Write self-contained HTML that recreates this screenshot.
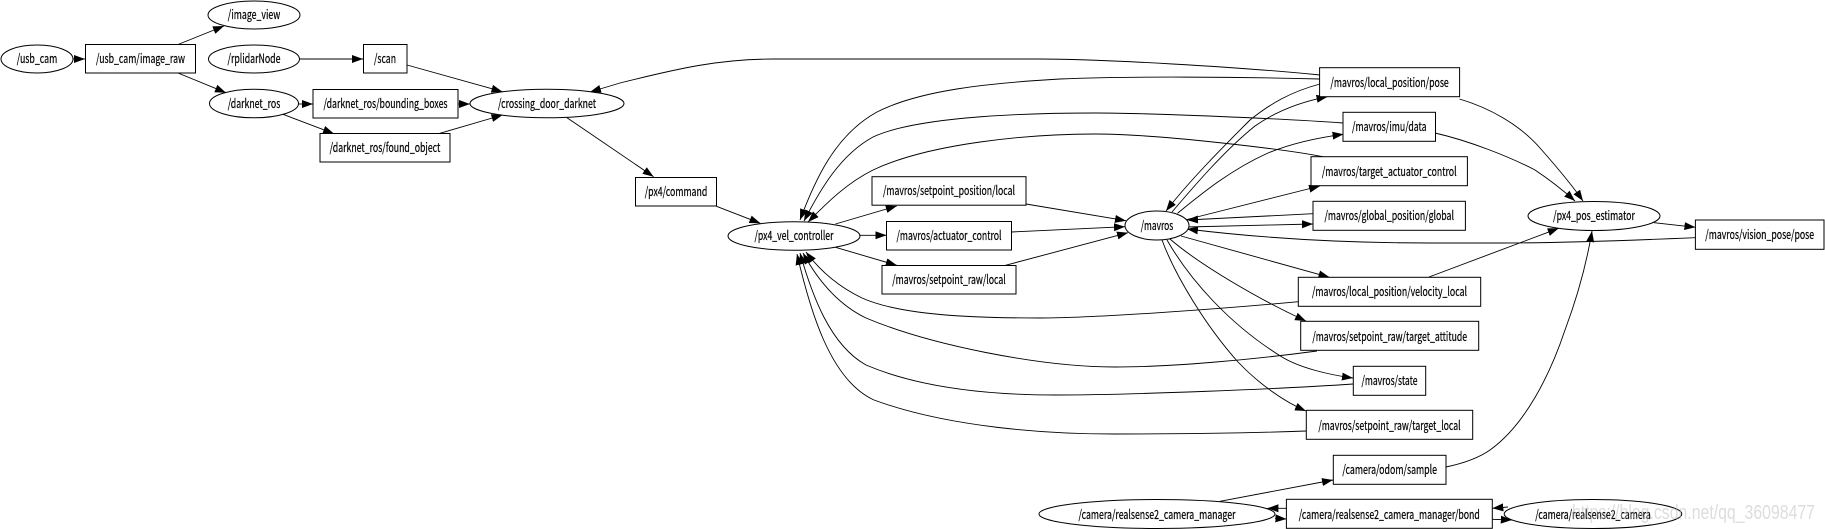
<!DOCTYPE html>
<html><head><meta charset="utf-8"><style>
html,body{margin:0;padding:0;background:#fff;width:1825px;height:529px;overflow:hidden}
svg{display:block;filter:blur(.3px)}
text{font-family:"Noto Sans CJK SC","Liberation Sans",sans-serif;font-size:12.5px;fill:#000;stroke:#000;stroke-width:.22;text-anchor:middle}
.n rect,.n ellipse{fill:#fff;stroke:#000;stroke-width:1}
.e path{fill:none;stroke:#000;stroke-width:.9;marker-end:url(#a)}
</style></head><body>
<svg width="1825" height="529" viewBox="0 0 1825 529" xmlns="http://www.w3.org/2000/svg">
<defs><marker id="a" markerUnits="userSpaceOnUse" markerWidth="12" markerHeight="9" refX="11" refY="4" orient="auto"><path d="M0,0L11,4L0,8z" fill="#000"/></marker></defs>
<g class="e">
<path d="M73,59L85,59"/><path d="M178,44.5L224,26"/><path d="M178,73L226,92.7"/><path d="M299,59L363,59"/>
<path d="M407,65L502.5,91.7"/><path d="M298.5,104L313,104"/><path d="M458,104L470,104"/><path d="M283,114.3L334,133.7"/>
<path d="M438.6,133.7L502.5,115"/><path d="M567,117.7L653.6,176.7"/>
<path d="M1320,75C1240,67 1100,59 1040,59L774,59C720,59 680,68 620,83L590,92"/>
<path d="M716.5,206.3L760.4,223.3"/><path d="M835.5,224L896.8,206"/><path d="M859.6,235.3L886.5,235.3"/><path d="M835.5,247.3L896.8,265.3"/>
<path d="M1026,204L1126,220.7"/><path d="M1011.5,232L1125,226.7"/><path d="M1005.5,265.3L1128,232.7"/>
<path d="M1320,79C1240,77 1130,76 1060,79C990,83 920,90 877,112C835,135 815,180 800,220"/>
<path d="M1343,123C1290,119 1150,113 1095,113C1040,113 920,115 873,137C840,155 820,190 804,221"/>
<path d="M1324,157C1290,150 1160,134 1095,134C1030,134 930,143 873,170C845,184 825,205 808,222"/>
<path d="M1320,84C1290,92 1270,104 1250,120C1225,145 1190,180 1166,211"/>
<path d="M1172,212C1195,185 1225,150 1255,126C1275,112 1300,102 1327.5,96.7"/>
<path d="M1177.5,213.3C1200,195 1230,170 1268,153C1290,144 1315,138 1343.5,134.3"/>
<path d="M1185,220L1320,186"/><path d="M1313,213.7L1187,220"/><path d="M1187,227L1313,224"/>
<path d="M1695,237.7C1640,240 1560,243 1500,243L1430,243C1340,243 1260,238 1187,229"/>
<path d="M1181,236L1329.5,277.3"/><path d="M1429,277L1558.7,228.3"/>
<path d="M1298.5,301.7C1230,308 1100,318 1040,318C970,318 900,315 862,298C835,285 818,268 806,252"/>
<path d="M1317,351C1250,360 1170,367 1115,367C1040,367 930,345 866,318C835,303 815,275 803,253"/>
<path d="M1353,384C1280,389 1130,395 1056,395C990,395 920,388 866,365C830,345 812,295 800,253"/>
<path d="M1306,431C1250,433 1180,434 1115,434C1050,434 950,428 874,400C830,380 810,310 797,254"/>
<path d="M1170,239C1200,265 1260,300 1306,321"/>
<path d="M1167,240C1190,280 1230,325 1282,357C1300,368 1330,375 1353,378"/>
<path d="M1162,240C1175,275 1205,325 1238,362C1260,385 1285,402 1306,411"/>
<path d="M1459.5,99C1490,108 1520,125 1540,148C1555,165 1572,185 1583,201"/>
<path d="M1435,133C1470,141 1510,157 1535,170C1550,180 1565,192 1575,201"/>
<path d="M1654,222.7L1695.4,227.3"/>
<path d="M1446,467C1465,463 1480,457 1490,450C1525,425 1550,375 1565,330C1580,290 1588,255 1592,231"/>
<path d="M1220,501.3L1333,480"/><path d="M1286.4,508.3L1267.4,508.3"/><path d="M1275,518.3L1286.4,519"/>
<path d="M1508,507L1492.3,508.3"/><path d="M1492.3,519.3L1511.8,520"/>
</g>
<g class="n">
<ellipse cx="37" cy="59" rx="36" ry="14"/><rect x="85.5" y="44.5" width="110" height="28.5"/>
<ellipse cx="254" cy="15" rx="46" ry="14"/><ellipse cx="254" cy="59" rx="45.5" ry="14"/>
<rect x="363.5" y="44.5" width="43.5" height="28.5"/><ellipse cx="254" cy="103.5" rx="44.5" ry="14.3"/>
<rect x="313" y="89.5" width="145" height="28.5"/><rect x="320" y="133.5" width="130" height="28.5"/>
<ellipse cx="547" cy="103.5" rx="77" ry="14.3"/><rect x="635.5" y="177.5" width="81" height="28.5"/>
<ellipse cx="794" cy="236" rx="66" ry="14.3"/><rect x="872" y="176.7" width="154" height="28.5"/>
<rect x="886.5" y="221.5" width="125" height="28.5"/><rect x="882" y="265.5" width="134" height="28.5"/>
<ellipse cx="1157" cy="225.5" rx="32" ry="14.5"/><rect x="1319.6" y="67.7" width="140" height="29"/>
<rect x="1343" y="112.3" width="92.5" height="29"/><rect x="1311" y="156.7" width="156.4" height="29"/>
<rect x="1313" y="201.3" width="152.4" height="29"/><ellipse cx="1594" cy="216" rx="66" ry="14.5"/>
<rect x="1695.4" y="220" width="128.6" height="29.3"/><rect x="1298.3" y="277.3" width="182.4" height="29"/>
<rect x="1300.7" y="321.3" width="178" height="29"/><rect x="1353.3" y="366.3" width="72.4" height="29"/>
<rect x="1306.3" y="410.3" width="166.4" height="29"/><rect x="1333.3" y="455.3" width="112.7" height="29"/>
<ellipse cx="1157" cy="514" rx="118" ry="14.5"/><rect x="1286.4" y="499.3" width="205.9" height="29"/>
<ellipse cx="1593" cy="514" rx="88.8" ry="14.5"/>
</g>
<g>
<text x="37" y="63" textLength="40.6" lengthAdjust="spacingAndGlyphs">/usb_cam</text>
<text x="140.5" y="63" textLength="89" lengthAdjust="spacingAndGlyphs">/usb_cam/image_raw</text>
<text x="254" y="19" textLength="52.6" lengthAdjust="spacingAndGlyphs">/image_view</text>
<text x="254" y="63" textLength="53" lengthAdjust="spacingAndGlyphs">/rplidarNode</text>
<text x="385" y="63" textLength="22" lengthAdjust="spacingAndGlyphs">/scan</text>
<text x="254" y="108" textLength="52.6" lengthAdjust="spacingAndGlyphs">/darknet_ros</text>
<text x="385.5" y="108" textLength="124" lengthAdjust="spacingAndGlyphs">/darknet_ros/bounding_boxes</text>
<text x="385" y="152" textLength="110.7" lengthAdjust="spacingAndGlyphs">/darknet_ros/found_object</text>
<text x="547" y="108" textLength="98" lengthAdjust="spacingAndGlyphs">/crossing_door_darknet</text>
<text x="676" y="196" textLength="62.5" lengthAdjust="spacingAndGlyphs">/px4/command</text>
<text x="794" y="240" textLength="79" lengthAdjust="spacingAndGlyphs">/px4_vel_controller</text>
<text x="949" y="195" textLength="132" lengthAdjust="spacingAndGlyphs">/mavros/setpoint_position/local</text>
<text x="949" y="240" textLength="105" lengthAdjust="spacingAndGlyphs">/mavros/actuator_control</text>
<text x="949" y="284" textLength="113.5" lengthAdjust="spacingAndGlyphs">/mavros/setpoint_raw/local</text>
<text x="1157" y="230" textLength="32.5" lengthAdjust="spacingAndGlyphs">/mavros</text>
<text x="1389.6" y="87" textLength="118.4" lengthAdjust="spacingAndGlyphs">/mavros/local_position/pose</text>
<text x="1389.3" y="131" textLength="74.5" lengthAdjust="spacingAndGlyphs">/mavros/imu/data</text>
<text x="1389.2" y="176" textLength="134.7" lengthAdjust="spacingAndGlyphs">/mavros/target_actuator_control</text>
<text x="1389.2" y="220" textLength="129.5" lengthAdjust="spacingAndGlyphs">/mavros/global_position/global</text>
<text x="1594" y="220" textLength="81.7" lengthAdjust="spacingAndGlyphs">/px4_pos_estimator</text>
<text x="1759.7" y="239" textLength="108.8" lengthAdjust="spacingAndGlyphs">/mavros/vision_pose/pose</text>
<text x="1389.5" y="296" textLength="155" lengthAdjust="spacingAndGlyphs">/mavros/local_position/velocity_local</text>
<text x="1389.7" y="341" textLength="154.7" lengthAdjust="spacingAndGlyphs">/mavros/setpoint_raw/target_attitude</text>
<text x="1389.5" y="385" textLength="56" lengthAdjust="spacingAndGlyphs">/mavros/state</text>
<text x="1389.5" y="430" textLength="142.3" lengthAdjust="spacingAndGlyphs">/mavros/setpoint_raw/target_local</text>
<text x="1389.7" y="474" textLength="94.7" lengthAdjust="spacingAndGlyphs">/camera/odom/sample</text>
<text x="1157" y="519" textLength="157" lengthAdjust="spacingAndGlyphs">/camera/realsense2_camera_manager</text>
<text x="1389.3" y="519" textLength="181" lengthAdjust="spacingAndGlyphs">/camera/realsense2_camera_manager/bond</text>
<text x="1593" y="519" textLength="115.5" lengthAdjust="spacingAndGlyphs">/camera/realsense2_camera</text>
</g>
<text x="1693.5" y="519" textLength="243" lengthAdjust="spacingAndGlyphs" style="font-family:'Liberation Sans',sans-serif;font-size:20px;fill:#bbb;fill-opacity:.5;stroke:none">https://blog.csdn.net/qq_36098477</text>
</svg>
</body></html>
